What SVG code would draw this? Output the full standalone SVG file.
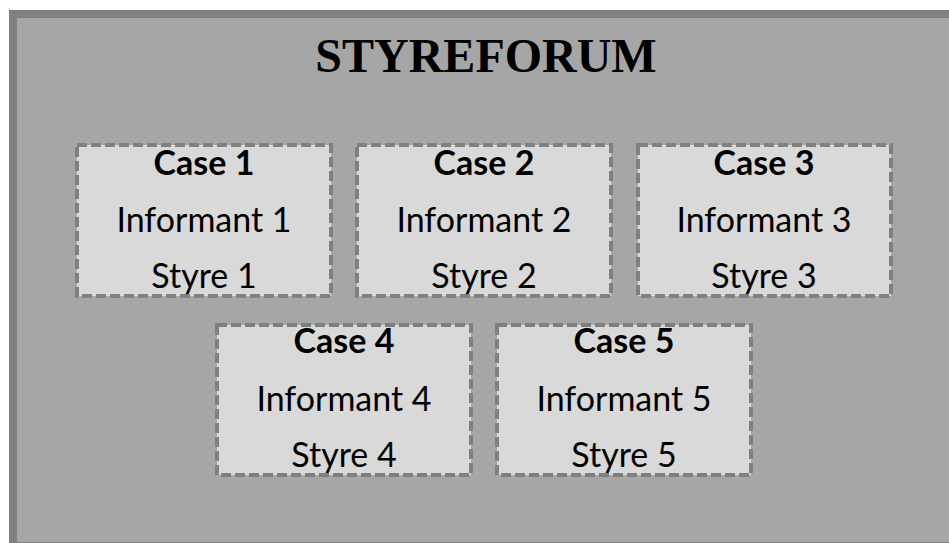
<svg xmlns="http://www.w3.org/2000/svg" width="949" height="543" viewBox="0 0 949 543">
  <style>
    .frame { fill: #a6a6a6; stroke: #808080; stroke-width: 8; }
    .box { fill: #d9d9d9; stroke: #808080; stroke-width: 4; stroke-dasharray: 10 4; }
    .title { font-family: "Liberation Serif", "Times New Roman", serif; font-weight: bold; font-size: 48px; fill: #000; text-anchor: middle; }
    .head { font-family: Lato, "Open Sans", sans-serif; font-weight: bold; font-size: 34px; fill: #000; text-anchor: middle; }
    .line { font-family: Lato, "Open Sans", sans-serif; font-size: 34px; fill: #000; text-anchor: middle; }
  </style>
  <rect x="0" y="0" width="949" height="543" fill="#ffffff"/>
  <g id="styreforum">
    <rect class="frame" x="13" y="14" width="950" height="532"/>
    <text class="title" x="486" y="72">STYREFORUM</text>
  </g>
  <g id="case1">
    <rect class="box" x="77" y="145" width="254" height="151"/>
    <text class="head" x="204" y="175">Case 1</text>
    <text class="line" x="204" y="232">Informant 1</text>
    <text class="line" x="204" y="288">Styre 1</text>
  </g>
  <g id="case2">
    <rect class="box" x="357" y="145" width="254" height="151"/>
    <text class="head" x="484" y="175">Case 2</text>
    <text class="line" x="484" y="232">Informant 2</text>
    <text class="line" x="484" y="288">Styre 2</text>
  </g>
  <g id="case3">
    <rect class="box" x="638" y="145" width="253" height="151"/>
    <text class="head" x="764" y="175">Case 3</text>
    <text class="line" x="764" y="232">Informant 3</text>
    <text class="line" x="764" y="288">Styre 3</text>
  </g>
  <g id="case4">
    <rect class="box" x="217" y="325" width="254" height="150"/>
    <text class="head" x="344" y="353">Case 4</text>
    <text class="line" x="344" y="411">Informant 4</text>
    <text class="line" x="344" y="467">Styre 4</text>
  </g>
  <g id="case5">
    <rect class="box" x="497" y="325" width="254" height="150"/>
    <text class="head" x="624" y="353">Case 5</text>
    <text class="line" x="624" y="411">Informant 5</text>
    <text class="line" x="624" y="467">Styre 5</text>
  </g>
  <g id="connectors"/>
</svg>
